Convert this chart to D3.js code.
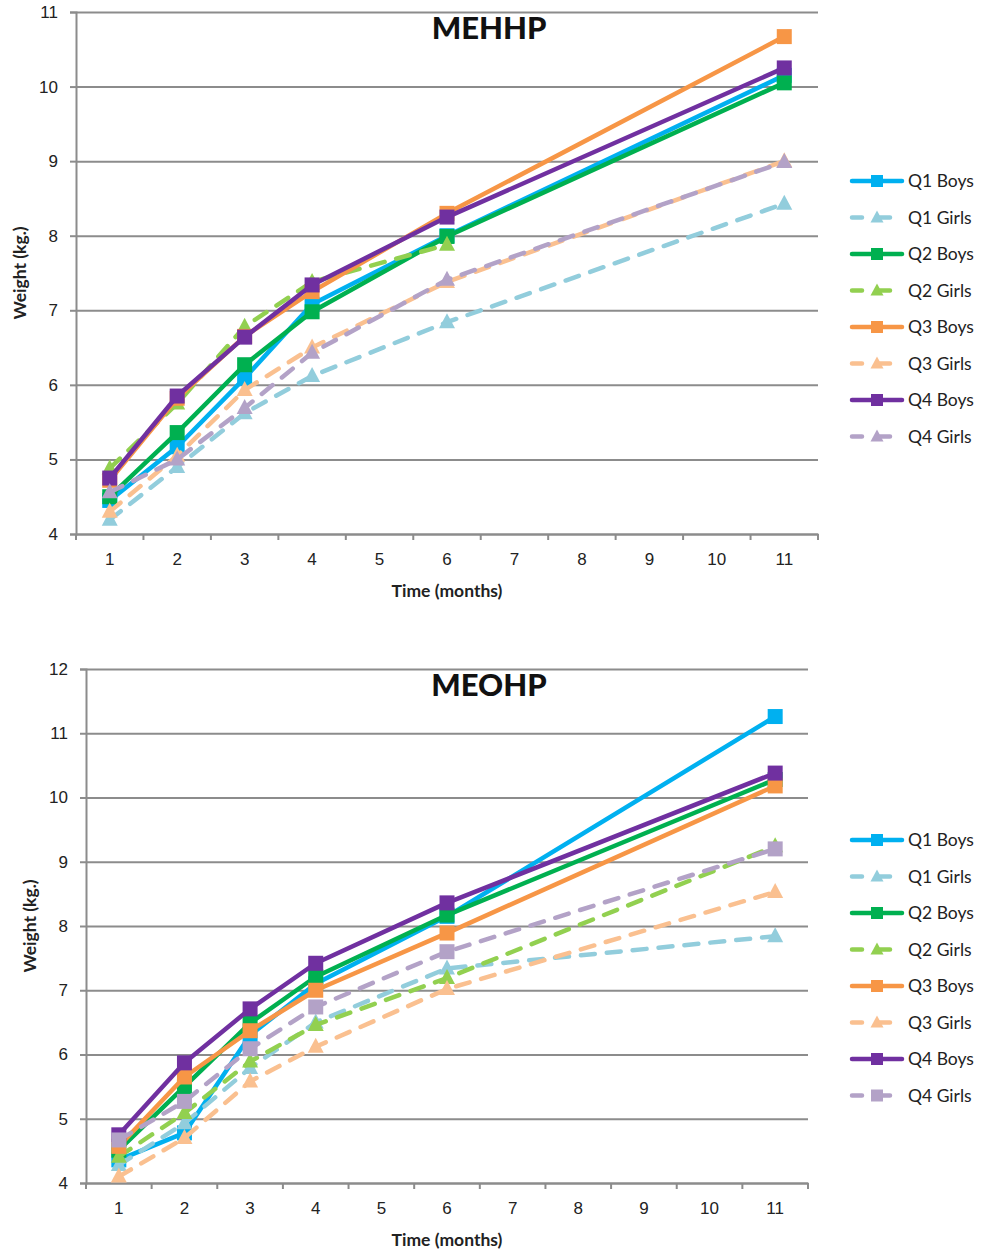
<!DOCTYPE html>
<html>
<head>
<meta charset="utf-8">
<script src="https://cdn.jsdelivr.net/npm/d3@7"></script>
<style>
  body { margin: 0; background: #fff; }
  svg { display: block; font-family: Lato, "Noto Sans", sans-serif; }
</style>
</head>
<body>
<svg id="chart" width="981" height="1254"></svg>
<script>
// months on the category axis, and the months that were measured
var months = [1, 2, 3, 4, 5, 6, 7, 8, 9, 10, 11];
var sampledMonths = [1, 2, 3, 4, 6, 11];
var seriesNames = ["Q1 Boys", "Q1 Girls", "Q2 Boys", "Q2 Girls", "Q3 Boys", "Q3 Girls", "Q4 Boys", "Q4 Girls"];
var mehhpTicks = [4, 5, 6, 7, 8, 9, 10, 11];
var meohpTicks = [4, 5, 6, 7, 8, 9, 10, 11, 12];

// MEHHP weights (kg)
var mehhpQ1Boys  = [4.45, 5.17, 6.09, 7.08, 8.00, 10.15];
var mehhpQ1Girls = [4.19, 4.90, 5.62, 6.12, 6.84, 8.43];
var mehhpQ2Boys  = [4.50, 5.36, 6.27, 6.98, 7.99, 10.05];
var mehhpQ2Girls = [4.88, 5.75, 6.78, 7.38, 7.88, null];
var mehhpQ3Boys  = [4.72, 5.82, 6.65, 7.25, 8.30, 10.67];
var mehhpQ3Girls = [4.30, 5.05, 5.93, 6.50, 7.38, 9.00];
var mehhpQ4Boys  = [4.75, 5.85, 6.64, 7.34, 8.25, 10.25];
var mehhpQ4Girls = [4.56, 5.00, 5.69, 6.43, 7.41, 8.99];

// MEOHP weights (kg)
var meohpQ1Boys  = [4.36, 4.78, 6.30, 7.10, 8.15, 11.26];
var meohpQ1Girls = [4.28, 4.93, 5.79, 6.50, 7.34, 7.84];
var meohpQ2Boys  = [4.51, 5.50, 6.49, 7.21, 8.17, 10.28];
var meohpQ2Girls = [4.41, 5.09, 5.89, 6.46, 7.19, 9.24];
var meohpQ3Boys  = [4.57, 5.65, 6.37, 7.00, 7.89, 10.18];
var meohpQ3Girls = [4.10, 4.70, 5.58, 6.12, 7.02, 8.53];
var meohpQ4Boys  = [4.75, 5.87, 6.71, 7.42, 8.36, 10.38];
var meohpQ4Girls = [4.67, 5.27, 6.09, 6.74, 7.60, 9.20];

var colors = ["#00b0f0", "#92cddc", "#00b050", "#92d050", "#f79646", "#fac090", "#7030a0", "#b3a2c7"];
var dashed = [false, true, false, true, false, true, false, true];

var svg = d3.select("#chart");

function drawChart(opt) {
    var x = d3.scaleBand().domain(months).range([opt.left, opt.right]).padding(0);
    var y = d3.scaleLinear().domain(opt.domain).range([opt.bottom, opt.top]);
    var g = svg.append("g");

    //gridlines
    g.append("g")
        .attr("transform", `translate(${opt.left},0)`)
        .call(d3.axisLeft(y).tickValues(opt.ticks).tickSize(-(opt.right - opt.left)).tickFormat(""))
        .call(s => s.select(".domain").remove())
        .selectAll("line").attr("stroke", "#8c8c8c").attr("stroke-width", 2);

    //y axis
    var yAxis = g.append("g")
        .attr("transform", `translate(${opt.left},0)`)
        .call(d3.axisLeft(y).tickValues(opt.ticks).tickFormat(d3.format("d")).tickSize(6).tickPadding(12));
    yAxis.select(".domain").attr("stroke", "#8c8c8c").attr("stroke-width", 2);
    yAxis.selectAll("line").attr("stroke", "#8c8c8c").attr("stroke-width", 2);
    yAxis.selectAll("text").attr("font-size", 17).attr("fill", "#222");

    //x axis
    var xAxis = g.append("g")
        .attr("transform", `translate(0,${opt.bottom})`)
        .call(d3.axisBottom(x).tickSize(0).tickPadding(19));
    xAxis.select(".domain").attr("stroke", "#8c8c8c").attr("stroke-width", 2);
    xAxis.selectAll("text").attr("font-size", 17).attr("fill", "#222");
    var bounds = months.map(m => x(m)).concat([opt.right]);
    g.selectAll(".xtick")
        .data(bounds)
        .enter()
        .append("line")
        .attr("x1", d => d).attr("x2", d => d)
        .attr("y1", opt.bottom).attr("y2", opt.bottom + 6)
        .attr("stroke", "#8c8c8c").attr("stroke-width", 2);

    //axis titles
    g.append("text")
        .attr("x", (opt.left + opt.right) / 2)
        .attr("y", opt.bottom + 63)
        .attr("text-anchor", "middle")
        .attr("font-size", 17.5).attr("font-weight", "bold").attr("fill", "#222")
        .text("Time (months)");
    g.append("text")
        .attr("transform", `translate(${opt.left - 50},${(opt.top + opt.bottom) / 2}) rotate(-90)`)
        .attr("text-anchor", "middle")
        .attr("font-size", 17.5).attr("font-weight", "bold").attr("fill", "#222")
        .text("Weight (kg.)");
    g.append("text")
        .attr("x", 489)
        .attr("y", opt.top + 27)
        .attr("text-anchor", "middle")
        .attr("font-size", 31).attr("font-weight", 900).attr("fill", "#111")
        .text(opt.title);

    var cx = m => x(m) + x.bandwidth() / 2;
    var line = d3.line()
        .defined(d => d.v != null)
        .x(d => cx(d.m))
        .y(d => y(d.v));

    opt.series.forEach(function(vals, i) {
        var pts = sampledMonths.map((m, j) => ({m: m, v: vals[j]}));
        g.append("path")
            .datum(pts)
            .attr("d", line)
            .attr("fill", "none")
            .attr("stroke", colors[i])
            .attr("stroke-width", 4.5)
            .attr("stroke-linecap", dashed[i] ? "round" : "butt")
            .attr("stroke-linejoin", "round")
            .attr("stroke-dasharray", dashed[i] ? "14,12" : null);
        var shape = opt.markers[i];
        g.selectAll(".m" + i)
            .data(pts.filter(d => d.v != null))
            .enter()
            .append("path")
            .attr("transform", d => `translate(${cx(d.m)},${y(d.v)})`)
            .attr("d", shape === "square" ? "M-7.5,-7.5H7.5V7.5H-7.5Z" : "M0,-9L8,6H-8Z")
            .attr("fill", colors[i]);
    });

    //legend
    var legend = g.selectAll(".legend")
        .data(seriesNames)
        .enter()
        .append("g")
        .attr("transform", (d, i) => `translate(850,${opt.legendTop + i * 36.5})`);
    legend.append("line")
        .attr("x1", 2).attr("x2", 52)
        .attr("stroke", (d, i) => colors[i])
        .attr("stroke-width", 4.5)
        .attr("stroke-linecap", "round")
        .attr("stroke-dasharray", (d, i) => dashed[i] ? "10,18" : null);
    legend.append("path")
        .attr("transform", "translate(27,0)")
        .attr("d", (d, i) => opt.markers[i] === "square" ? "M-6,-6H6V6H-6Z" : "M0,-7L6.5,5H-6.5Z")
        .attr("fill", (d, i) => colors[i]);
    legend.append("text")
        .attr("x", 58)
        .attr("y", 6)
        .attr("font-size", 17.5)
        .attr("fill", "#222")
        .text(d => d);
}

drawChart({
    title: "MEHHP",
    left: 76, right: 818, top: 12, bottom: 534,
    domain: [4, 11], ticks: mehhpTicks,
    legendTop: 181,
    series: [mehhpQ1Boys, mehhpQ1Girls, mehhpQ2Boys, mehhpQ2Girls, mehhpQ3Boys, mehhpQ3Girls, mehhpQ4Boys, mehhpQ4Girls],
    markers: ["square", "triangle", "square", "triangle", "square", "triangle", "square", "triangle"]
});

drawChart({
    title: "MEOHP",
    left: 86, right: 808, top: 669, bottom: 1183,
    domain: [4, 12], ticks: meohpTicks,
    legendTop: 840,
    series: [meohpQ1Boys, meohpQ1Girls, meohpQ2Boys, meohpQ2Girls, meohpQ3Boys, meohpQ3Girls, meohpQ4Boys, meohpQ4Girls],
    markers: ["square", "triangle", "square", "triangle", "square", "triangle", "square", "square"]
});
</script>
</body>
</html>
